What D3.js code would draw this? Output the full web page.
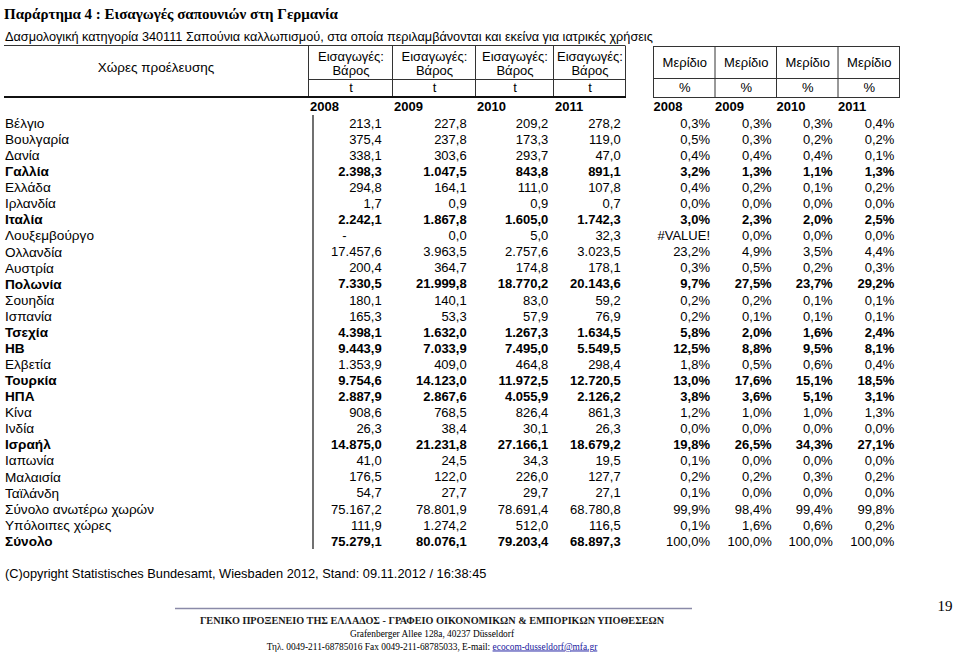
<!DOCTYPE html>
<html><head><meta charset="utf-8">
<script src="https://cdn.jsdelivr.net/npm/d3@7"></script>
<style>
html,body{margin:0;padding:0;background:#fff;}
svg{display:block;}
</style>
</head><body>
<svg id="chart" width="959" height="652"></svg>
<script>
// ---------- DATA ----------
const title = "Παράρτημα 4 : Εισαγωγές σαπουνιών στη Γερμανία";
const subtitle = "Δασμολογική κατηγορία 340111 Σαπούνια καλλωπισμού, στα οποία περιλαμβάνονται και εκείνα για ιατρικές χρήσεις";
const countries = ["Βέλγιο","Βουλγαρία","Δανία","Γαλλία","Ελλάδα","Ιρλανδία","Ιταλία","Λουξεμβούργο","Ολλανδία","Αυστρία","Πολωνία","Σουηδία","Ισπανία","Τσεχία","ΗΒ","Ελβετία","Τουρκία","ΗΠΑ","Κίνα","Ινδία","Ισραήλ","Ιαπωνία","Μαλαισία","Ταϊλάνδη","Σύνολο ανωτέρω χωρών","Υπόλοιπες χώρες","Σύνολο"];
const boldCountries = ["Γαλλία","Ιταλία","Πολωνία","Τσεχία","ΗΒ","Τουρκία","ΗΠΑ","Ισραήλ","Σύνολο"];
const boldShareCountries = ["Γαλλία","Ιταλία","Πολωνία","Τσεχία","ΗΒ","Τουρκία","ΗΠΑ","Ισραήλ"];
const years = ["2008","2009","2010","2011"];
const imports2008 = [213.1,375.4,338.1,2398.3,294.8,1.7,2242.1,null,17457.6,200.4,7330.5,180.1,165.3,4398.1,9443.9,1353.9,9754.6,2887.9,908.6,26.3,14875.0,41.0,176.5,54.7,75167.2,111.9,75279.1];
const imports2009 = [227.8,237.8,303.6,1047.5,164.1,0.9,1867.8,0.0,3963.5,364.7,21999.8,140.1,53.3,1632.0,7033.9,409.0,14123.0,2867.6,768.5,38.4,21231.8,24.5,122.0,27.7,78801.9,1274.2,80076.1];
const imports2010 = [209.2,173.3,293.7,843.8,111.0,0.9,1605.0,5.0,2757.6,174.8,18770.2,83.0,57.9,1267.3,7495.0,464.8,11972.5,4055.9,826.4,30.1,27166.1,34.3,226.0,29.7,78691.4,512.0,79203.4];
const imports2011 = [278.2,119.0,47.0,891.1,107.8,0.7,1742.3,32.3,3023.5,178.1,20143.6,59.2,76.9,1634.5,5549.5,298.4,12720.5,2126.2,861.3,26.3,18679.2,19.5,127.7,27.1,68780.8,116.5,68897.3];
const share2008 = [0.3,0.5,0.4,3.2,0.4,0.0,3.0,null,23.2,0.3,9.7,0.2,0.2,5.8,12.5,1.8,13.0,3.8,1.2,0.0,19.8,0.1,0.2,0.1,99.9,0.1,100.0];
const share2009 = [0.3,0.3,0.4,1.3,0.2,0.0,2.3,0.0,4.9,0.5,27.5,0.2,0.1,2.0,8.8,0.5,17.6,3.6,1.0,0.0,26.5,0.0,0.2,0.0,98.4,1.6,100.0];
const share2010 = [0.3,0.2,0.4,1.1,0.1,0.0,2.0,0.0,3.5,0.2,23.7,0.1,0.1,1.6,9.5,0.6,15.1,5.1,1.0,0.0,34.3,0.0,0.3,0.0,99.4,0.6,100.0];
const share2011 = [0.4,0.2,0.1,1.3,0.2,0.0,2.5,0.0,4.4,0.3,29.2,0.1,0.1,2.4,8.1,0.4,18.5,3.1,1.3,0.0,27.1,0.0,0.2,0.0,99.8,0.2,100.0];
const headerLabel = "Χώρες προέλευσης";
const importHeader1 = "Εισαγωγές:";
const importHeader2 = "Βάρος";
const importUnit = "t";
const shareHeader = "Μερίδιο";
const shareUnit = "%";
const copyright = "(C)opyright Statistisches Bundesamt, Wiesbaden 2012, Stand: 09.11.2012 / 16:38:45";
const footer1 = "ΓΕΝΙΚΟ ΠΡΟΞΕΝΕΙΟ ΤΗΣ ΕΛΛΑΔΟΣ - ΓΡΑΦΕΙΟ ΟΙΚΟΝΟΜΙΚΩΝ &  ΕΜΠΟΡΙΚΩΝ ΥΠΟΘΕΣΕΩΝ";
const footer2 = "Grafenberger Allee 128a, 40237 Düsseldorf";
const footer3a = "Τηλ. 0049-211-68785016  Fax 0049-211-68785033, E-mail: ";
const footer3b = "ecocom-dusseldorf@mfa.gr";
const pageNumber = "19";

// ---------- LAYOUT ----------
const svg = d3.select("#chart");
const SANS = "'Liberation Sans', Arial, Helvetica, sans-serif";
const SERIF = "'Liberation Serif', 'Times New Roman', serif";
const FS = 13;
const grLocale = d3.formatLocale({decimal: ",", thousands: ".", grouping: [3], currency: ["", "€"]});
const fmtNum = grLocale.format(",.1f");

const importSeries = [imports2008, imports2009, imports2010, imports2011];
const shareSeries = [share2008, share2009, share2010, share2011];

// row scale
const y = d3.scaleBand().domain(countries).range([115, 549]);
const yc = c => y(c) + y.bandwidth() / 2;

// column boundaries (left table / right table)
const impEdges = d3.scaleOrdinal().domain(years.concat(["end"])).range([308, 392, 475, 553, 625]);
const impRight = d3.scaleOrdinal().domain(years).range([381.7, 466.7, 548.3, 620.7]);
const shEdges = d3.scaleOrdinal().domain(years.concat(["end"])).range([653, 714.5, 776, 837.5, 899]);
const shRight = d3.scaleOrdinal().domain(years).range([710, 771.7, 832.7, 894.3]);

// Title
svg.append("text").attr("x", 4).attr("y", 19).attr("font-family", SERIF).attr("font-weight", "bold")
  .attr("font-size", 15).text(title);
svg.append("text").attr("x", 5).attr("y", 41).attr("font-family", SANS).attr("font-size", 12.7).text(subtitle);

// header lines (left)
const hdr = svg.append("g").attr("stroke", "#333").attr("stroke-width", 1).attr("fill", "none");
const topY = 45.5, midY = 79.5, botY = 97;
hdr.append("line").attr("x1", 4).attr("x2", 625).attr("y1", topY).attr("y2", topY);
hdr.append("line").attr("x1", 308).attr("x2", 625).attr("y1", midY).attr("y2", midY);
years.concat(["end"]).forEach(k => {
  hdr.append("line").attr("x1", impEdges(k) + 0.5).attr("x2", impEdges(k) + 0.5).attr("y1", topY).attr("y2", botY);
});
svg.append("line").attr("x1", 4).attr("x2", 626).attr("y1", botY).attr("y2", botY).attr("stroke", "#111").attr("stroke-width", 2);

// header lines (right)
const sTop = 46.5, sMid = 78.5, sBot = 97.5;
hdr.append("rect").attr("x", shEdges("2008") + 0.5).attr("y", sTop).attr("width", shEdges("end") - shEdges("2008")).attr("height", sBot - sTop);
hdr.append("line").attr("x1", shEdges("2008")).attr("x2", shEdges("end")).attr("y1", sMid).attr("y2", sMid);
years.slice(1).forEach(k => {
  hdr.append("line").attr("x1", shEdges(k) + 0.5).attr("x2", shEdges(k) + 0.5).attr("y1", sTop).attr("y2", sBot);
});

// header texts
const ht = svg.append("g").attr("font-family", SANS).attr("font-size", FS).attr("text-anchor", "middle").attr("fill", "#000");
ht.append("text").attr("x", (4 + 308) / 2).attr("y", 72).attr("font-size", 13.5).text(headerLabel);
years.forEach((yr, i) => {
  const nxt = i < 3 ? years[i + 1] : "end";
  const cx = (impEdges(yr) + impEdges(nxt)) / 2 + 1;
  ht.append("text").attr("x", cx).attr("y", 61).text(importHeader1);
  ht.append("text").attr("x", cx).attr("y", 75).text(importHeader2);
  ht.append("text").attr("x", cx).attr("y", 92).text(importUnit);
  const sx = (shEdges(yr) + shEdges(nxt)) / 2 + 1;
  ht.append("text").attr("x", sx).attr("y", 67).text(shareHeader);
  ht.append("text").attr("x", sx).attr("y", 92).text(shareUnit);
});
// year labels
const yl = svg.append("g").attr("font-family", SANS).attr("font-size", FS).attr("font-weight", "bold");
years.forEach(yr => {
  yl.append("text").attr("x", impEdges(yr) + 2).attr("y", 111).text(yr);
  yl.append("text").attr("x", shEdges(yr) + 0.5).attr("y", 111).text(yr);
});

// body vertical line
svg.append("line").attr("x1", 313).attr("x2", 313).attr("y1", 115).attr("y2", 549).attr("stroke", "#111").attr("stroke-width", 1.2);

// body rows
const body = svg.append("g").attr("font-family", SANS).attr("font-size", FS).attr("fill", "#000");
const rows = body.selectAll("g.row").data(countries).join("g").attr("class", "row")
  .attr("transform", c => `translate(0,${yc(c)})`);
rows.append("text").attr("x", 5).attr("dy", "0.36em").attr("font-size", 13.6)
  .attr("font-weight", c => boldCountries.includes(c) ? "bold" : "normal").text(c => c);
years.forEach((yr, j) => {
  rows.append("text").attr("x", impRight(yr)).attr("dy", "0.36em").attr("text-anchor", "end")
    .attr("font-weight", c => boldCountries.includes(c) ? "bold" : "normal")
    .attr("dx", (c, i) => importSeries[j][i] === null ? -35 : 0)
    .text((c, i) => importSeries[j][i] === null ? "-" : fmtNum(importSeries[j][i]));
  rows.append("text").attr("x", shRight(yr)).attr("dy", "0.36em").attr("text-anchor", "end")
    .attr("font-weight", c => boldShareCountries.includes(c) ? "bold" : "normal")
    .text((c, i) => shareSeries[j][i] === null ? "#VALUE!" : fmtNum(shareSeries[j][i]) + "%");
});

// copyright
svg.append("text").attr("x", 5).attr("y", 578).attr("font-family", SANS).attr("font-size", 12.8).text(copyright);

// footer
svg.append("line").attr("x1", 175).attr("x2", 692).attr("y1", 608.5).attr("y2", 608.5).attr("stroke", "#8a8aa8").attr("stroke-width", 1.5);
svg.append("text").attr("x", 945).attr("y", 611).attr("font-family", SERIF).attr("font-size", 15).attr("text-anchor", "middle").text(pageNumber);
const ft = svg.append("g").attr("font-family", SERIF).attr("text-anchor", "middle");
ft.append("text").attr("x", 432).attr("y", 624).attr("font-size", 10.2).attr("font-weight", "bold").attr("fill", "#1a1a1a").text(footer1);
ft.append("text").attr("x", 432).attr("y", 637).attr("font-size", 9.4).text(footer2);
const f3 = ft.append("text").attr("x", 432).attr("y", 649.5).attr("font-size", 9.4);
f3.append("tspan").text(footer3a);
f3.append("tspan").attr("fill", "#1a1aa0").attr("text-decoration", "underline").text(footer3b);
</script>
</body></html>
